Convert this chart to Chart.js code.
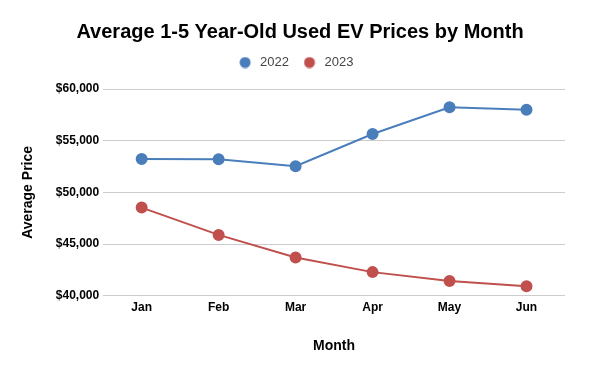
<!DOCTYPE html>
<html>
<head>
<meta charset="utf-8">
<script src="https://cdn.jsdelivr.net/npm/chart.js@4/dist/chart.umd.min.js"></script>
<style>
  html, body { margin: 0; padding: 0; background: #ffffff; }
  #wrap { width: 600px; height: 371px; }
</style>
</head>
<body>
<div id="wrap"><canvas id="priceChart" width="600" height="371"></canvas></div>
<script>
// Chart data.
var months = ['Jan', 'Feb', 'Mar', 'Apr', 'May', 'Jun'];
var prices2022 = [53240, 53200, 52530, 55650, 58230, 58000];
var prices2023 = [48530, 45890, 43700, 42290, 41420, 40930];
var yTicks = [40000, 45000, 50000, 55000, 60000];

var blue = '#4a7ebb';
var red = '#c0504d';

function money(v) {
    return '$' + v.toLocaleString('en-US');
}

// Legend dot drawn to the left of a wider image, so there is more room before the text.
function makeDot(color) {
    var c = document.createElement('canvas');
    c.width = 22;
    c.height = 12;
    var g = c.getContext('2d');
    g.fillStyle = color;
    g.beginPath();
    g.arc(6, 6, 5.5, 0, Math.PI * 2);
    g.fill();
    return c;
}
var dots = [makeDot(blue), makeDot(red)];

// Extra room under the legend, so the plot starts lower.
var legendGap = {
    id: 'legendGap',
    beforeInit: function (chart) {
        var fit = chart.legend.fit;
        chart.legend.fit = function () {
            fit.bind(chart.legend)();
            this.height += 10;
        };
    }
};

var ctx = document.getElementById('priceChart').getContext('2d');
var chart = new Chart(ctx, {
    type: 'line',
    data: {
        labels: months,
        datasets: [{
            label: '2022',
            data: prices2022,
            borderColor: blue,
            backgroundColor: blue,
            borderWidth: 2,
            pointRadius: 5,
            pointHoverRadius: 5,
            tension: 0
        }, {
            label: '2023',
            data: prices2023,
            borderColor: red,
            backgroundColor: red,
            borderWidth: 2,
            pointRadius: 5,
            pointHoverRadius: 5,
            tension: 0
        }]
    },
    plugins: [legendGap],
    options: {
        responsive: false,
        animation: false,
        layout: { padding: { left: 35, right: 35, top: 0, bottom: 12 } },
        plugins: {
            title: {
                display: true,
                text: 'Average 1-5 Year-Old Used EV Prices by Month',
                color: '#000000',
                font: { family: 'Liberation Sans', size: 20, weight: 'bold' },
                padding: { top: 20, bottom: -10 }
            },
            legend: {
                labels: {
                    usePointStyle: true,
                    boxWidth: 7,
                    boxHeight: 7,
                    padding: 22,
                    color: '#444444',
                    font: { family: 'Liberation Sans', size: 13 },
                    generateLabels: function (chart) {
                        var items = Chart.defaults.plugins.legend.labels.generateLabels(chart);
                        items.forEach(function (item, i) {
                            item.pointStyle = dots[i];
                        });
                        return items;
                    }
                }
            },
            tooltip: { enabled: false }
        },
        scales: {
            x: {
                offset: true,
                grid: { display: false, drawTicks: false },
                border: { display: false },
                ticks: {
                    color: '#000000',
                    padding: 5,
                    font: { family: 'Liberation Sans', size: 12, weight: 'bold' }
                },
                title: {
                    display: true,
                    text: 'Month',
                    color: '#000000',
                    font: { family: 'Liberation Sans', size: 14, weight: 'bold' },
                    padding: { top: 18 }
                }
            },
            y: {
                min: 40000,
                max: 60000,
                afterBuildTicks: function (axis) {
                    axis.ticks = yTicks.map(function (v) { return { value: v }; });
                },
                grid: { color: '#cccccc', drawTicks: false },
                border: { display: false },
                ticks: {
                    color: '#000000',
                    padding: 4,
                    font: { family: 'Liberation Sans', size: 12, weight: 'bold' },
                    callback: function (v) { return money(v); }
                },
                title: {
                    display: true,
                    text: 'Average Price',
                    color: '#000000',
                    font: { family: 'Liberation Sans', size: 14, weight: 'bold' },
                    padding: { top: -15, bottom: 15 }
                }
            }
        }
    }
});
</script>
</body>
</html>
